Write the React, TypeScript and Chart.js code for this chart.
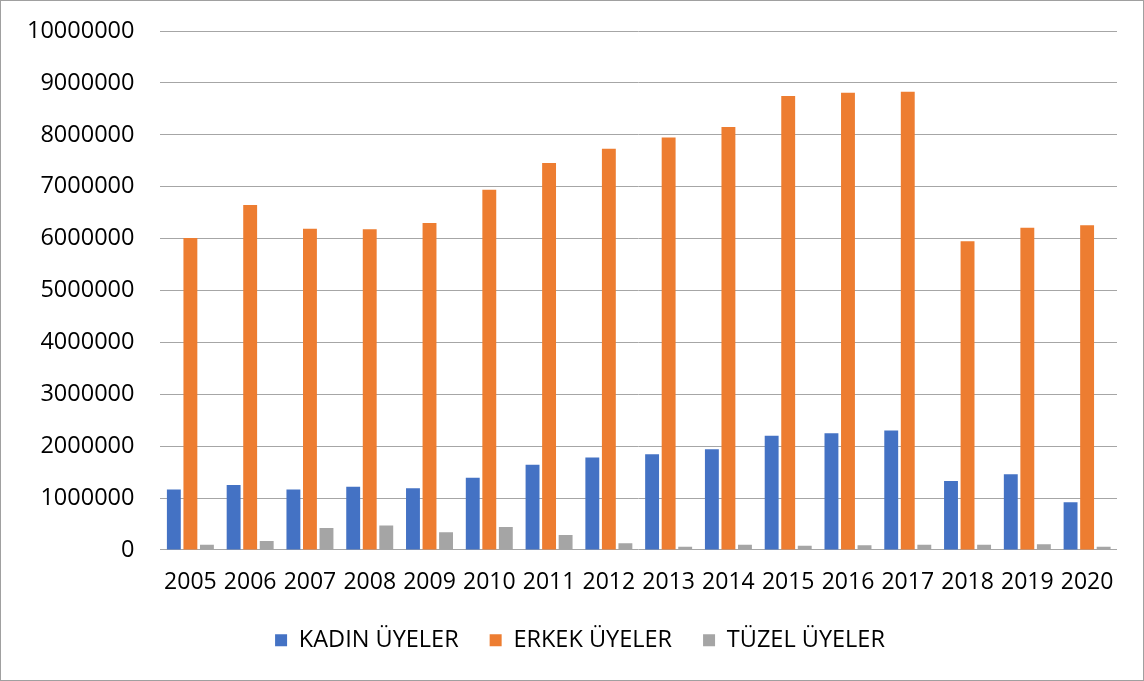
import React, { useEffect, useRef } from "react";
import { Chart, registerables } from "chart.js";

Chart.register(...registerables);

const years = ["2005", "2006", "2007", "2008", "2009", "2010", "2011", "2012", "2013", "2014", "2015", "2016", "2017", "2018", "2019", "2020"];
const kadin = [1166000, 1250000, 1166000, 1216000, 1190000, 1390000, 1640000, 1780000, 1845000, 1940000, 2200000, 2250000, 2300000, 1330000, 1460000, 920000];
const erkek = [6010000, 6650000, 6190000, 6180000, 6300000, 6940000, 7460000, 7730000, 7950000, 8150000, 8750000, 8810000, 8830000, 5950000, 6210000, 6260000];
const tuzel = [100000, 170000, 420000, 470000, 340000, 440000, 285000, 130000, 60000, 100000, 80000, 90000, 100000, 100000, 110000, 60000];
const seriesNames = ["KADIN ÜYELER", "ERKEK ÜYELER", "TÜZEL ÜYELER"];
const yTickMax = 10000000;
const yTickStep = 1000000;

const FONT = "'Open Sans', 'Liberation Sans', sans-serif";
const LEGEND_SHIFT_Y = 18;
const LEGEND_SHIFT_X = 21;

const legendShift = {
  id: "legendShift",
  afterLayout(chart: any) {
    const lg = chart.legend;
    if (lg) {
      lg.top -= LEGEND_SHIFT_Y;
      lg.bottom -= LEGEND_SHIFT_Y;
      lg.left += LEGEND_SHIFT_X;
      lg.right += LEGEND_SHIFT_X;
    }
  },
};

export default function App() {
  const ref = useRef<HTMLCanvasElement | null>(null);
  useEffect(() => {
    document.body.style.margin = "0";
    if (!ref.current) return;
    const chart = new Chart(ref.current, {
      type: "bar",
      data: {
        labels: years,
        datasets: [
          { label: seriesNames[0], data: kadin, backgroundColor: "#4472C4" },
          { label: seriesNames[1], data: erkek, backgroundColor: "#ED7D31" },
          { label: seriesNames[2], data: tuzel, backgroundColor: "#A5A5A5" },
        ],
      },
      options: {
        animation: false,
        responsive: false,
        maintainAspectRatio: false,
        layout: { padding: { left: 0, right: 26, top: 0, bottom: 0 } },
        datasets: { bar: { categoryPercentage: 0.83, barPercentage: 0.84 } },
        plugins: {
          legend: {
            position: "bottom",
            labels: {
              boxWidth: 12,
              boxHeight: 12,
              padding: 31,
              color: "#000",
              font: { family: FONT, size: 23.5 },
            },
          },
          tooltip: { enabled: false },
        },
        scales: {
          x: {
            grid: { display: false, drawTicks: false },
            border: { display: false },
            ticks: { color: "#000", font: { family: FONT, size: 23 }, padding: 19, maxRotation: 0 },
          },
          y: {
            min: 0,
            max: yTickMax,
            grid: { color: "#a6a6a6", lineWidth: 1, drawTicks: false },
            border: { display: false },
            ticks: {
              stepSize: yTickStep,
              color: "#000",
              font: { family: FONT, size: 23.5 },
              padding: 26,
              callback: (v: any) => String(v),
            },
          },
        },
      },
      plugins: [legendShift],
    });
    return () => chart.destroy();
  }, []);
  return (
    <div style={{ position: "absolute", left: 0, top: 0, width: 1144, height: 681, boxSizing: "border-box", border: "1px solid #a0a0a0", background: "#fff", overflow: "hidden" }}>
      <canvas ref={ref} width={1142} height={689} style={{ display: "block", position: "relative", top: -10 }} />
    </div>
  );
}
